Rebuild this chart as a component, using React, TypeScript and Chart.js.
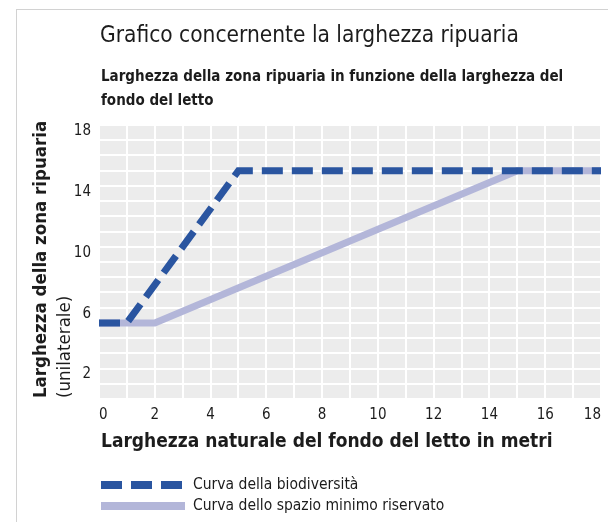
import React, { useEffect, useRef } from "react";
import { Chart, registerables } from "chart.js";

Chart.register(...registerables);

// ---- data ----
const chartTitle = "Grafico concernente la larghezza ripuaria";
const chartSubtitle = ["Larghezza della zona ripuaria in funzione della larghezza del", "fondo del letto"];
const yAxisTitleBold = "Larghezza della zona ripuaria";
const yAxisTitleNormal = "(unilaterale)";
const xAxisTitle = "Larghezza naturale del fondo del letto in metri";

const seriesNames = ["Curva della biodiversità", "Curva dello spazio minimo riservato"];
const biodiversityX = [0, 1, 5, 18];
const biodiversityY = [5, 5, 15, 15];
const minimumSpaceX = [0, 2, 15, 18];
const minimumSpaceY = [5, 5, 15, 15];

const xTickLabels = [0, 2, 4, 6, 8, 10, 12, 14, 16, 18];
const yTickLabels = [2, 6, 10, 14, 18];
const axisMin = 0;
const axisMax = 18;

// ---- styles ----
const FONT = '"Liberation Sans Narrow", "DejaVu Sans Condensed", "Arial Narrow", sans-serif';
const DARK = "#2a55a0";
const LIGHT = "#b3b6d9";
const TEXT = "#1c1c1c";
const PLOT_BG = "#ececec";

const plotBackground = {
  id: "plotBackground",
  beforeDraw(chart: any) {
    const { ctx, chartArea } = chart;
    if (!chartArea) return;
    ctx.save();
    ctx.fillStyle = PLOT_BG;
    ctx.fillRect(chartArea.left, chartArea.top, chartArea.right - chartArea.left, chartArea.bottom - chartArea.top);
    ctx.restore();
  },
};

export default function App() {
  const canvasRef = useRef<HTMLCanvasElement | null>(null);

  useEffect(() => {
    const canvas = canvasRef.current;
    if (!canvas) return;
    const chart = new Chart(canvas, {
      type: "line",
      data: {
        datasets: [
          {
            label: seriesNames[0],
            data: biodiversityX.map((x, i) => ({ x, y: biodiversityY[i] })),
            borderColor: DARK,
            borderWidth: 7,
            borderDash: [21, 9],
            borderCapStyle: "butt",
            borderJoinStyle: "miter",
            pointRadius: 0,
            fill: false,
            tension: 0,
          },
          {
            label: seriesNames[1],
            data: minimumSpaceX.map((x, i) => ({ x, y: minimumSpaceY[i] })),
            borderColor: LIGHT,
            borderWidth: 7,
            borderCapStyle: "butt",
            borderJoinStyle: "miter",
            pointRadius: 0,
            fill: false,
            tension: 0,
          },
        ],
      },
      options: {
        animation: false,
        responsive: false,
        maintainAspectRatio: false,
        layout: { padding: { left: 0, top: 125, right: 5, bottom: 93 } },
        plugins: {
          legend: { display: false },
          title: { display: false },
          tooltip: { enabled: false },
        },
        scales: {
          x: {
            type: "linear",
            min: axisMin,
            max: axisMax,
            border: { display: false },
            grid: { color: "#ffffff", lineWidth: 2, drawTicks: false },
            afterFit: (s: any) => {
              s.height = 30;
            },
            ticks: {
              stepSize: 1,
              padding: 7,
              align: "inner",
              maxRotation: 0,
              autoSkip: false,
              color: TEXT,
              font: { family: FONT, size: 15 },
              callback: (v: any) => (xTickLabels.includes(Number(v)) ? String(v) : ""),
            },
          },
          y: {
            type: "linear",
            min: axisMin,
            max: axisMax,
            border: { display: false },
            grid: { color: "#ffffff", lineWidth: 2, drawTicks: false },
            afterFit: (s: any) => {
              s.width = 99;
            },
            ticks: {
              stepSize: 1,
              padding: 8,
              labelOffset: 6,
              autoSkip: false,
              color: TEXT,
              font: { family: FONT, size: 15 },
              callback: (v: any) => (yTickLabels.includes(Number(v)) ? String(v) : ""),
            },
          },
        },
      },
      plugins: [plotBackground],
    });
    return () => chart.destroy();
  }, []);

  const abs = (style: React.CSSProperties): React.CSSProperties => ({
    position: "absolute",
    whiteSpace: "nowrap",
    fontFamily: FONT,
    color: TEXT,
    margin: 0,
    ...style,
  });

  return (
    <div
      style={{
        position: "fixed",
        left: 0,
        top: 0,
        width: 608,
        height: 522,
        background: "#ffffff",
        overflow: "hidden",
      }}
    >
      <div
        style={{
          position: "absolute",
          left: 16,
          top: 9,
          width: 700,
          height: 700,
          borderLeft: "1px solid #d2d2d2",
          borderTop: "1px solid #d2d2d2",
        }}
      />
      <canvas ref={canvasRef} width={608} height={522} style={{ position: "absolute", left: 0, top: 0, width: 608, height: 522 }} />

      <div style={abs({ left: 100, top: 22, fontSize: 22.5, lineHeight: "25px", fontWeight: 400 })}>{chartTitle}</div>
      <div style={abs({ left: 101, top: 64, fontSize: 15, lineHeight: "24px", fontWeight: 700 })}>
        {chartSubtitle[0]}
        <br />
        {chartSubtitle[1]}
      </div>

      <div
        style={abs({
          left: 28,
          top: 398,
          width: 300,
          transform: "rotate(-90deg)",
          transformOrigin: "left top",
          lineHeight: "23px",
        })}
      >
        <span style={{ fontWeight: 700, fontSize: 18.5 }}>{yAxisTitleBold}</span>
        <br />
        <span style={{ fontWeight: 400, fontSize: 18.5 }}>{yAxisTitleNormal}</span>
      </div>

      <div style={abs({ left: 101, top: 430, fontSize: 19, lineHeight: "21px", fontWeight: 700 })}>{xAxisTitle}</div>

      {[0, 1, 2].map((i) => (
        <div
          key={i}
          style={{ position: "absolute", left: 101 + i * 30, top: 481, width: 21, height: 8, background: DARK }}
        />
      ))}
      <div style={{ position: "absolute", left: 101, top: 502, width: 84, height: 8, background: LIGHT }} />
      <div style={abs({ left: 193, top: 476, fontSize: 15.5, lineHeight: "16px" })}>{seriesNames[0]}</div>
      <div style={abs({ left: 193, top: 497, fontSize: 15.5, lineHeight: "16px" })}>{seriesNames[1]}</div>
    </div>
  );
}
